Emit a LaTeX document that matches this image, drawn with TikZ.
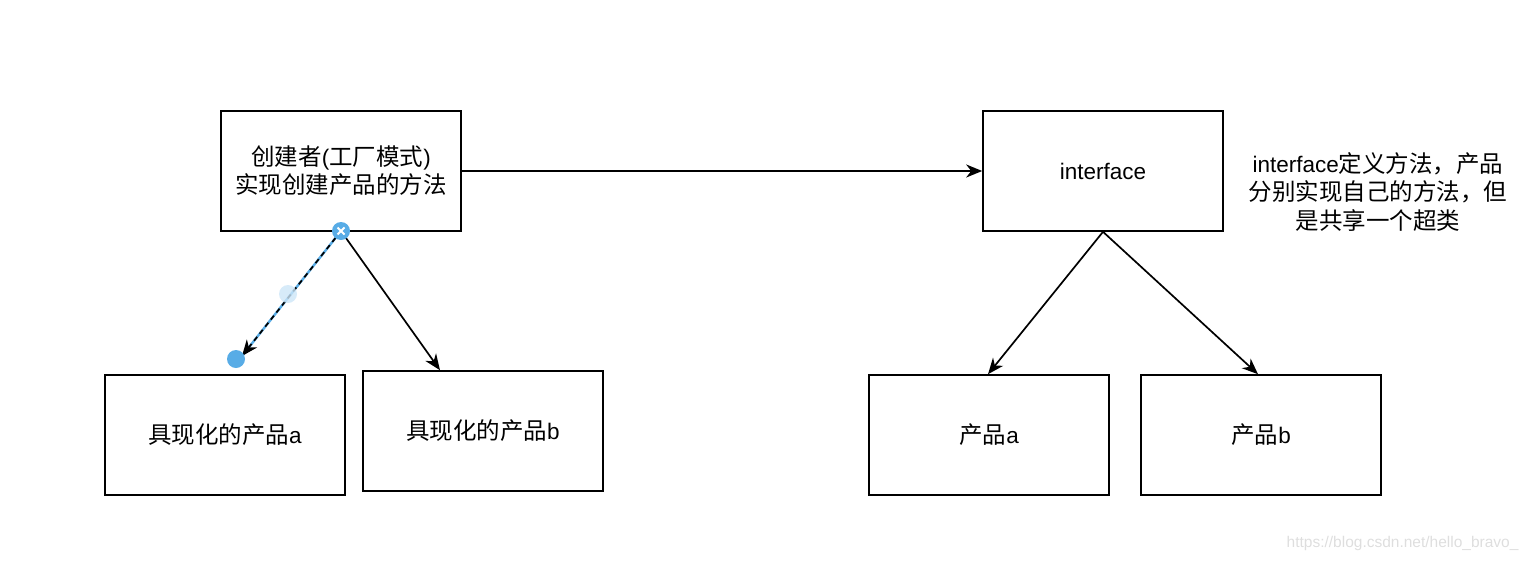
\documentclass[tikz,border=0pt]{standalone}
\usepackage{fontspec}
\setmainfont{Liberation Sans}
\newfontfamily\cjk{Noto Sans CJK SC}
\newfontfamily\latf{Liberation Sans}
\newcommand\lt[1]{{\latf\fontsize{22.5pt}{28pt}\selectfont #1}}
\usetikzlibrary{arrows.meta,calc}
\definecolor{selblue}{RGB}{88,172,230}
\definecolor{wm}{RGB}{222,222,222}
\tikzset{
  box/.style={draw=black, line width=1.6pt, minimum width=240pt, minimum height=120pt, inner sep=0pt, align=center, font=\fontsize{23.5pt}{28pt}\selectfont\cjk},
  conn/.style={line width=1.7pt, -{Stealth[length=16pt, width=13pt, inset=5pt]}},
}
\begin{document}
\begin{tikzpicture}[x=1pt, y=-1pt]
\useasboundingbox (0,0) rectangle (1530,562);
\node[box] (creator) at (341,171) {创建者\lt{(}工厂模式\lt{)}\\实现创建产品的方法};
\node[box] (iface) at (1103,171) {\lt{interface}};
\node[box] (ca) at (225,435) {具现化的产品\lt{a}};
\node[box] (cb) at (483,431) {具现化的产品\lt{b}};
\node[box] (pa) at (989,435) {产品\lt{a}};
\node[box] (pb) at (1261,435) {产品\lt{b}};
\node[align=center, font=\fontsize{23.5pt}{28.5pt}\selectfont\cjk] (note) at (1378,192) {\lt{interface}定义方法，产品\\分别实现自己的方法，但\\是共享一个超类};
\node[font=\fontsize{15.5pt}{17pt}\selectfont, text=wm, anchor=east] (wmk) at (1522,543) {https://blog.csdn.net/hello\_bravo\_};

\coordinate (cs) at (341,231);
\coordinate (ce) at (242,356);
\draw[conn] (creator.east) -- (iface.west);
\draw[conn] (cs) -- (cb.north -| 440,0);
\draw[selblue, line width=2.4pt] (cs) -- (ce);
\draw[conn, dashed, dash pattern=on 5pt off 4pt] (cs) -- (ce);
\draw[conn] (iface.south) -- (pa.north -| 988,0);
\draw[conn] (iface.south) -- (pb.north -| 1258,0);

\fill[selblue!30, opacity=0.8] (288,294) circle (9pt);
\fill[selblue] (236,359) circle (9pt);
\fill[selblue] (cs) circle (9pt);
\draw[white, line width=1.8pt] ($(cs)+(-3.5,-3.5)$) -- ($(cs)+(3.5,3.5)$) ($(cs)+(-3.5,3.5)$) -- ($(cs)+(3.5,-3.5)$);
\end{tikzpicture}
\end{document}
